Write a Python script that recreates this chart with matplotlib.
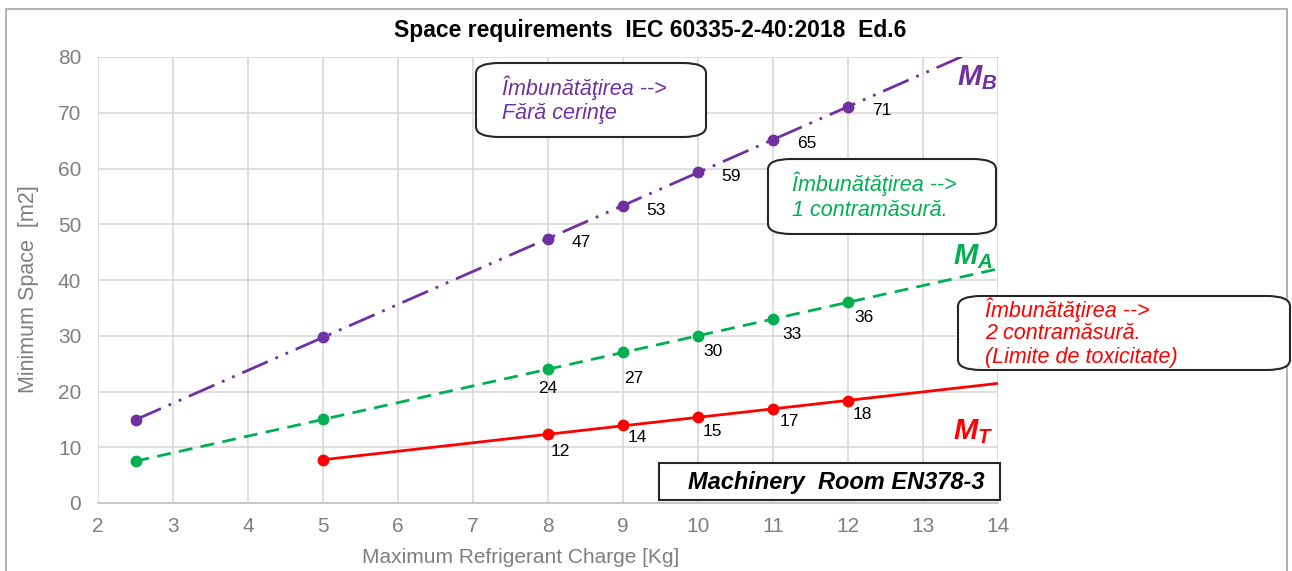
import matplotlib
matplotlib.use("Agg")
from matplotlib import pyplot as plt
from matplotlib.patches import FancyBboxPatch, Rectangle
import numpy as np

plt.rcParams['font.family'] = ['Liberation Sans', 'DejaVu Sans']
plt.rcParams['mathtext.fontset'] = 'custom'
plt.rcParams['mathtext.it'] = 'Liberation Sans:italic:bold'
plt.rcParams['mathtext.rm'] = 'Liberation Sans:italic:bold'

# data
x_b = [2.5, 5, 8, 9, 10, 11, 12]
y_b = [14.9, 29.8, 47.4, 53.3, 59.3, 65.2, 71.1]
x_a = [2.5, 5, 8, 9, 10, 11, 12]
y_a = [7.5, 15.0, 24.0, 27.0, 30.0, 33.0, 36.0]
x_t = [5, 8, 9, 10, 11, 12]
y_t = [7.7, 12.3, 14.0, 15.4, 16.9, 18.3]

purple = "#7030A0"
green = "#00B050"
red = "#FF0000"
gray = "#7F7F7F"

fig = plt.figure(figsize=(12.92, 5.71), dpi=100)
ax = fig.add_axes([98 / 1292, 68 / 571, 900 / 1292, 446 / 571])

# outer chart frame
fig.patches.append(Rectangle((6 / 1292, -0.05), 1281 / 1292, 1.05 - 9 / 571,
                             transform=fig.transFigure, fill=False,
                             edgecolor="#A6A6A6", lw=1.2, zorder=0))


def series(xs, ys, color, dashes, start_trend):
    xs = np.array(xs)
    ys = np.array(ys)
    k, c = np.polyfit(xs, ys, 1)
    xl = np.array([start_trend, 14])
    line, = ax.plot(xl, k * xl + c, color=color, lw=2.0, zorder=3)
    if dashes:
        line.set_dashes(dashes)
    ax.plot(xs, ys, "o", color=color, ms=7.5, zorder=4)


series(x_b, y_b, purple, (10, 3, 1, 3, 1, 3), 2.5)
series(x_a, y_a, green, (5, 3), 2.5)
series(x_t, y_t, red, None, 5)

# data labels
offs_b = [(24, -3)] * 5
offs_a = [(0, -14), (8, -19), (11, -11.5), (14, -11.5), (11.5, -11)]
offs_t = [(9, -12), (10, -9), (10, -10), (11.5, -9.5), (10, -9.5)]
for xs, ys, offs in [(x_b[2:], y_b[2:], offs_b), (x_a[2:], y_a[2:], offs_a),
                     (x_t[1:], y_t[1:], offs_t)]:
    for xv, yv, o in zip(xs, ys, offs):
        ax.annotate("%.0f" % yv, (xv, yv), xytext=o, textcoords="offset points",
                    ha="center", va="center", fontsize=12.5, color="black", zorder=5)

ax.set_xlim(2, 14)
ax.set_ylim(0, 80)
ax.set_xticks(range(2, 15))
ax.set_yticks(range(0, 81, 10))
ax.grid(True, color="#D9D9D9", lw=1.2)
ax.set_axisbelow(True)
for s in ["top", "right", "left"]:
    ax.spines[s].set_visible(False)
ax.spines["bottom"].set_color("#BFBFBF")
ax.spines["bottom"].set_linewidth(1.2)
ax.tick_params(length=0, labelsize=15, labelcolor=gray, pad=12)
ax.tick_params(axis="x", pad=10)
ax.set_ylabel("Minimum Space  [m2]", fontsize=15.5, color=gray)
ax.set_xlabel("Maximum Refrigerant Charge [Kg]", fontsize=15, color=gray)
ax.yaxis.set_label_coords(-0.066, 0.48)
ax.xaxis.set_label_coords(0.47, -0.1)

fig.text(650 / 1292, 1 - 30 / 571, "Space requirements  IEC 60335-2-40:2018  Ed.6",
         ha="center", va="center", fontsize=16.5, fontweight="bold")

# series names
fig.text(957 / 1292, 1 - 78 / 571, r"$M_B$", color=purple, fontsize=21, va="center")
fig.text(953 / 1292, 1 - 257 / 571, r"$M_A$", color=green, fontsize=21, va="center")
fig.text(953 / 1292, 1 - 432 / 571, r"$M_T$", color=red, fontsize=21, va="center")


def note(x0, y0, x1, y1, lines, color, tx, ty, step):
    W, H = 1292, 571
    box = FancyBboxPatch((x0 / W, 1 - y1 / H), (x1 - x0) / W, (y1 - y0) / H,
                         boxstyle="round,pad=0,rounding_size=0.018",
                         transform=fig.transFigure, facecolor="white",
                         edgecolor="#262626", lw=1.5, zorder=6)
    fig.patches.append(box)
    for i, s in enumerate(lines):
        fig.text(tx / W, 1 - (ty + i * step) / H, s, color=color, fontsize=15.5,
                 style="italic", va="center", ha="left", zorder=7)


note(476, 63, 706, 137, ["Îmbunătăţirea -->", "Fără cerinţe"], purple, 502, 88, 25)
note(768, 159, 996, 234, ["Îmbunătăţirea -->", "1 contramăsură."], green, 792, 184, 26)
note(958, 296, 1290, 370, ["Îmbunătăţirea -->", "2 contramăsură.", "(Limite de toxicitate)"],
     red, 985, 310, 23.5)

fig.patches.append(Rectangle((659 / 1292, 1 - 500 / 571), 341 / 1292, 37 / 571,
                             transform=fig.transFigure, facecolor="white",
                             edgecolor="#262626", lw=1.5, zorder=6))
fig.text(688 / 1292, 1 - 482 / 571, "Machinery  Room EN378-3", fontsize=17,
         fontweight="bold", style="italic", va="center", ha="left", zorder=7)

fig.savefig("out.png", dpi=100)
